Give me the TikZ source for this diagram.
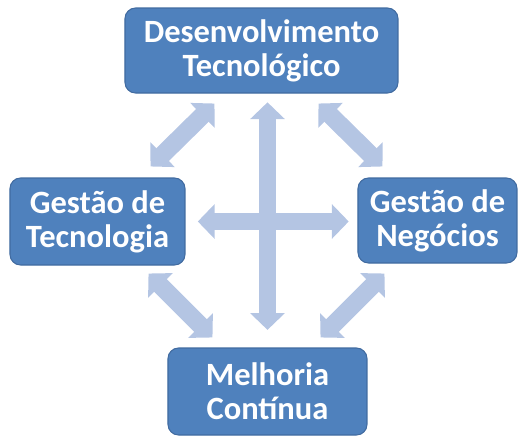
\documentclass[tikz,border=0pt]{standalone}
\usepackage{fontspec}
\setmainfont{Carlito}
\usepackage{tikz}
\usetikzlibrary{arrows.meta,positioning,calc}
\definecolor{boxblue}{RGB}{79,129,189}
\definecolor{boxline}{RGB}{65,107,160}
\definecolor{arrowblue}{RGB}{180,197,227}

\begin{document}
\begin{tikzpicture}[
    x=0.02cm, y=-0.02cm,
    area/.style={rectangle, rounded corners=6, draw=boxline, line width=0.6pt, fill=boxblue,
        text=white, align=center, font=\fontsize{18.5}{19.5}\selectfont\bfseries, inner sep=0pt},
    bigarrow/.style={draw=arrowblue, line width=10.2pt,
        {Triangle[length=9.6pt, width=19.3pt]}-{Triangle[length=9.6pt, width=19.3pt]}}
]
\useasboundingbox (0,0) rectangle (522,440);

% The four areas
\node[area, minimum width=273*0.02cm, minimum height=85*0.02cm] (desenv) at (261.5,50.5) {Desenvolvimento\\Tecnológico};
\node[area, minimum width=175*0.02cm, minimum height=87*0.02cm] (gtec) at (97.5,221.5) {Gestão de\\Tecnologia};
\node[area, minimum width=159*0.02cm, minimum height=85*0.02cm] (gneg) at (437.5,220.5) {Gestão de\\Negócios};
\node[area, minimum width=199*0.02cm, minimum height=87*0.02cm] (melhoria) at (267.5,391.5) {Melhoria\\Contínua};

% Ends of the diagonal arrows
\coordinate[shift={(90,10)}] (tl-a) at (desenv.south west);
\coordinate[shift={(-35,-11)}] (tl-b) at (gtec.north east);
\coordinate[shift={(-80,10)}] (tr-a) at (desenv.south east);
\coordinate[shift={(25,-11)}] (tr-b) at (gneg.north west);
\coordinate[shift={(-37,8)}] (bl-a) at (gtec.south east);
\coordinate[shift={(45,-10)}] (bl-b) at (melhoria.north west);
\coordinate[shift={(27,10)}] (br-a) at (gneg.south west);
\coordinate[shift={(-47,-10)}] (br-b) at (melhoria.north east);

% Cross in the middle
\draw[bigarrow, shorten <=5, shorten >=10] (melhoria.north |- desenv.south) -- (melhoria.north);
\draw[bigarrow, shorten <=7, shorten >=5] (gtec.east) -- (gneg.west |- gtec.east);

% Diagonal arrows
\draw[bigarrow] (tl-a) -- (tl-b);
\draw[bigarrow] (tr-a) -- (tr-b);
\draw[bigarrow] (bl-a) -- (bl-b);
\draw[bigarrow] (br-a) -- (br-b);

\end{tikzpicture}
\end{document}
